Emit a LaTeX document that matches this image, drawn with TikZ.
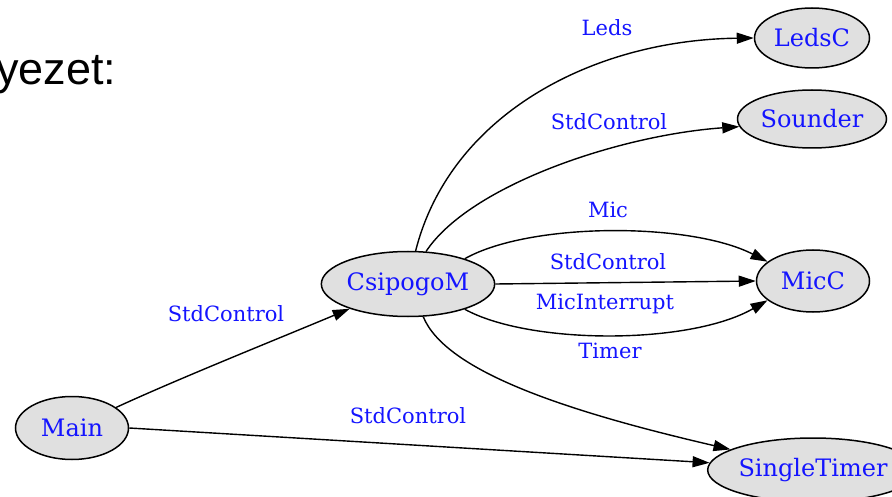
\documentclass[tikz,border=0pt]{standalone}
\usepackage{fontspec}
\setmainfont{DejaVu Serif}
\newfontfamily\headfont{Liberation Sans}
\usetikzlibrary{arrows.meta,shapes.geometric}
\definecolor{nodegray}{RGB}{224,224,224}
\definecolor{labelblue}{RGB}{20,20,255}
\tikzset{
  comp/.style={ellipse, draw=black, line width=1.5pt, fill=nodegray, inner sep=0pt,
    text=labelblue, font=\fontsize{24}{28}\selectfont},
  edge/.style={line width=1.4pt, -{Triangle[length=17pt,width=11pt]}},
  elabel/.style={text=labelblue, inner sep=0pt, font=\fontsize{21}{25}\selectfont}
}
\begin{document}
\begin{tikzpicture}[x=1pt,y=-1pt]
\useasboundingbox (0,0) rectangle (892,497);
\fill[white] (0,0) rectangle (892,497);
% title fragment
\node[anchor=base west, inner sep=0pt, font=\headfont\fontsize{45}{50}\selectfont] (title) at (-4,85) {yezet:};
% nodes
\node[comp, minimum width=115pt, minimum height=60pt] (L) at (812,38) {LedsC};
\node[comp, minimum width=149pt, minimum height=58pt] (S) at (812,119) {Sounder};
\node[comp, minimum width=113pt, minimum height=62pt] (M) at (813,281) {MicC};
\node[comp, minimum width=171pt, minimum height=65pt] (C) at (408,284) {CsipogoM};
\node[comp, minimum width=113pt, minimum height=63pt] (A) at (72,428) {Main};
\node[comp, minimum width=190pt, minimum height=64pt] (T) at (813,470) {SingleTimer};
% edges
\draw[edge] (C.77) .. controls (450,115) and (592,40) .. (L.west);
\draw[edge] (C.61) .. controls (470,185) and (620,135) .. (S.186);
\draw[edge] (C.24) .. controls (530,222) and (690,222) .. (M.157);
\draw[edge] (C.east) -- (M.west);
\draw[edge] (C.-24) .. controls (530,345) and (690,345) .. (M.-157);
\draw[edge] (C.-65) .. controls (445,370) and (560,410) .. (T.166);
\draw[edge] (A.25) .. controls (180,378) and (280,338) .. (C.-157);
\draw[edge] (A.east) -- (T.176);
% edge labels
\node[elabel] (l1) at (607,28) {Leds};
\node[elabel] (l2) at (609,122) {StdControl};
\node[elabel] (l3) at (608,210) {Mic};
\node[elabel] (l4) at (608,262) {StdControl};
\node[elabel] (l5) at (605,304) {MicInterrupt};
\node[elabel] (l6) at (610,351) {Timer};
\node[elabel] (l7) at (226,314) {StdControl};
\node[elabel] (l8) at (408,416) {StdControl};
\end{tikzpicture}
\end{document}
